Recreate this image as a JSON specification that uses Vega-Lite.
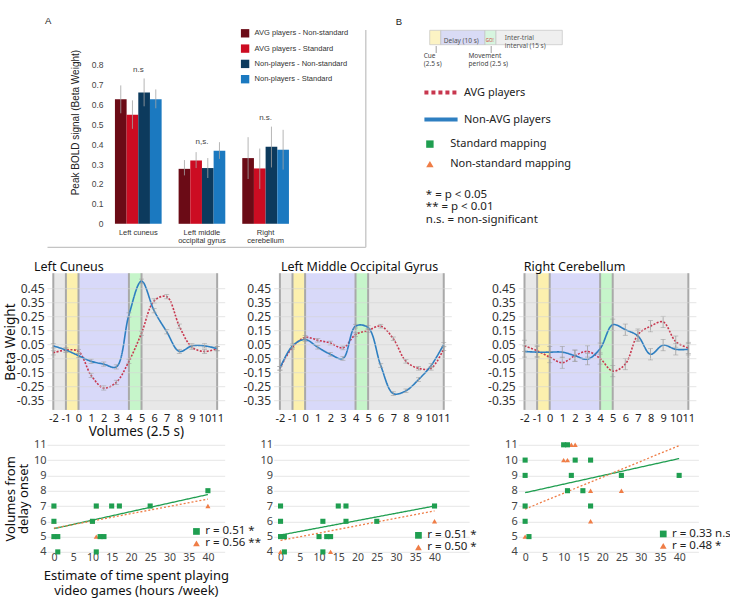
{
"$schema":"https://vega.github.io/schema/vega-lite/v6.json",
"padding":{"left":3,"top":15.5,"right":0,"bottom":0},
"spacing":13.7,
"config":{"font":"Noto Sans","view":{"stroke":null},"legend":{"padding":0},"axis":{"titleFontWeight":"normal","labelOverlap":false,"labelSeparation":-100}},
"resolve":{"scale":{"color":"independent","fill":"independent","stroke":"independent","shape":"independent","strokeDash":"independent"},"legend":{"color":"independent","fill":"independent","stroke":"independent","shape":"independent","strokeDash":"independent"}},
"datasets":{
"bars":[
{"region":"Left cuneus","group":"AVG players - Non-standard","value":0.625,"lo":0.555,"hi":0.695},
{"region":"Left cuneus","group":"AVG players - Standard","value":0.548,"lo":0.477,"hi":0.62},
{"region":"Left cuneus","group":"Non-players - Non-standard","value":0.66,"lo":0.59,"hi":0.73},
{"region":"Left cuneus","group":"Non-players - Standard","value":0.625,"lo":0.58,"hi":0.675},
{"region":"Left middle occipital gyrus","group":"AVG players - Non-standard","value":0.276,"lo":0.243,"hi":0.32},
{"region":"Left middle occipital gyrus","group":"AVG players - Standard","value":0.318,"lo":0.28,"hi":0.36},
{"region":"Left middle occipital gyrus","group":"Non-players - Non-standard","value":0.28,"lo":0.23,"hi":0.33},
{"region":"Left middle occipital gyrus","group":"Non-players - Standard","value":0.367,"lo":0.326,"hi":0.41},
{"region":"Right cerebellum","group":"AVG players - Non-standard","value":0.33,"lo":0.225,"hi":0.435},
{"region":"Right cerebellum","group":"AVG players - Standard","value":0.278,"lo":0.175,"hi":0.378},
{"region":"Right cerebellum","group":"Non-players - Non-standard","value":0.387,"lo":0.283,"hi":0.488},
{"region":"Right cerebellum","group":"Non-players - Standard","value":0.372,"lo":0.272,"hi":0.472}
],
"barnotes":[
{"region":"Left cuneus","note":"n.s","y":0.77},
{"region":"Left middle occipital gyrus","note":"n,s.","y":0.413},
{"region":"Right cerebellum","note":"n.s.","y":0.53}
],
"timeline":[{"phase":"Cue","dur":2.5,"idx":1},{"phase":"Delay","dur":10,"idx":2},{"phase":"Movement","dur":2.5,"idx":3},{"phase":"ITI","dur":15,"idx":4}],
"phases":[{"phase":"pre","start":-2,"end":-1},{"phase":"cue","start":-1,"end":0},{"phase":"delay","start":0,"end":4},{"phase":"move","start":4,"end":5},{"phase":"iti","start":5,"end":11}],
"edges":[{"v":-2},{"v":-1},{"v":0},{"v":4},{"v":5},{"v":11}],
"tc":[
{"region":"LC","group":"AVG players","vol":-2,"beta":-0.01,"err":0.015},
{"region":"LC","group":"AVG players","vol":-1,"beta":0.01,"err":0.015},
{"region":"LC","group":"AVG players","vol":0,"beta":0.0,"err":0.015},
{"region":"LC","group":"AVG players","vol":1,"beta":-0.17,"err":0.015},
{"region":"LC","group":"AVG players","vol":2,"beta":-0.26,"err":0.015},
{"region":"LC","group":"AVG players","vol":3,"beta":-0.22,"err":0.015},
{"region":"LC","group":"AVG players","vol":4,"beta":-0.07,"err":0.015},
{"region":"LC","group":"AVG players","vol":5,"beta":0.13,"err":0.015},
{"region":"LC","group":"AVG players","vol":6,"beta":0.36,"err":0.015},
{"region":"LC","group":"AVG players","vol":7,"beta":0.39,"err":0.015},
{"region":"LC","group":"AVG players","vol":8,"beta":0.18,"err":0.015},
{"region":"LC","group":"AVG players","vol":9,"beta":0.03,"err":0.015},
{"region":"LC","group":"AVG players","vol":10,"beta":0.0,"err":0.015},
{"region":"LC","group":"AVG players","vol":11,"beta":0.02,"err":0.015},
{"region":"LC","group":"Non-AVG players","vol":-2,"beta":0.04,"err":0.015},
{"region":"LC","group":"Non-AVG players","vol":-1,"beta":0.01,"err":0.015},
{"region":"LC","group":"Non-AVG players","vol":0,"beta":-0.03,"err":0.015},
{"region":"LC","group":"Non-AVG players","vol":1,"beta":-0.07,"err":0.015},
{"region":"LC","group":"Non-AVG players","vol":2,"beta":-0.09,"err":0.015},
{"region":"LC","group":"Non-AVG players","vol":3,"beta":-0.11,"err":0.015},
{"region":"LC","group":"Non-AVG players","vol":4,"beta":0.26,"err":0.015},
{"region":"LC","group":"Non-AVG players","vol":5,"beta":0.5,"err":0.015},
{"region":"LC","group":"Non-AVG players","vol":6,"beta":0.29,"err":0.015},
{"region":"LC","group":"Non-AVG players","vol":7,"beta":0.14,"err":0.015},
{"region":"LC","group":"Non-AVG players","vol":8,"beta":0.0,"err":0.015},
{"region":"LC","group":"Non-AVG players","vol":9,"beta":0.04,"err":0.015},
{"region":"LC","group":"Non-AVG players","vol":10,"beta":0.04,"err":0.015},
{"region":"LC","group":"Non-AVG players","vol":11,"beta":0.02,"err":0.015},
{"region":"LMOG","group":"AVG players","vol":-2,"beta":-0.12,"err":0.013},
{"region":"LMOG","group":"AVG players","vol":-1,"beta":0.03,"err":0.013},
{"region":"LMOG","group":"AVG players","vol":0,"beta":0.1,"err":0.013},
{"region":"LMOG","group":"AVG players","vol":1,"beta":0.08,"err":0.013},
{"region":"LMOG","group":"AVG players","vol":2,"beta":0.06,"err":0.013},
{"region":"LMOG","group":"AVG players","vol":3,"beta":0.025,"err":0.013},
{"region":"LMOG","group":"AVG players","vol":4,"beta":0.12,"err":0.013},
{"region":"LMOG","group":"AVG players","vol":5,"beta":0.15,"err":0.013},
{"region":"LMOG","group":"AVG players","vol":6,"beta":0.18,"err":0.013},
{"region":"LMOG","group":"AVG players","vol":7,"beta":0.09,"err":0.013},
{"region":"LMOG","group":"AVG players","vol":8,"beta":-0.07,"err":0.013},
{"region":"LMOG","group":"AVG players","vol":9,"beta":-0.12,"err":0.013},
{"region":"LMOG","group":"AVG players","vol":10,"beta":-0.12,"err":0.013},
{"region":"LMOG","group":"AVG players","vol":11,"beta":0.02,"err":0.013},
{"region":"LMOG","group":"Non-AVG players","vol":-2,"beta":-0.12,"err":0.013},
{"region":"LMOG","group":"Non-AVG players","vol":-1,"beta":0.04,"err":0.013},
{"region":"LMOG","group":"Non-AVG players","vol":0,"beta":0.085,"err":0.013},
{"region":"LMOG","group":"Non-AVG players","vol":1,"beta":0.03,"err":0.013},
{"region":"LMOG","group":"Non-AVG players","vol":2,"beta":-0.02,"err":0.013},
{"region":"LMOG","group":"Non-AVG players","vol":3,"beta":-0.05,"err":0.013},
{"region":"LMOG","group":"Non-AVG players","vol":4,"beta":0.18,"err":0.013},
{"region":"LMOG","group":"Non-AVG players","vol":5,"beta":0.17,"err":0.013},
{"region":"LMOG","group":"Non-AVG players","vol":6,"beta":-0.1,"err":0.013},
{"region":"LMOG","group":"Non-AVG players","vol":7,"beta":-0.3,"err":0.013},
{"region":"LMOG","group":"Non-AVG players","vol":8,"beta":-0.28,"err":0.013},
{"region":"LMOG","group":"Non-AVG players","vol":9,"beta":-0.2,"err":0.013},
{"region":"LMOG","group":"Non-AVG players","vol":10,"beta":-0.1,"err":0.013},
{"region":"LMOG","group":"Non-AVG players","vol":11,"beta":0.05,"err":0.013},
{"region":"RC","group":"AVG players","vol":-2,"beta":0.04,"err":0.04},
{"region":"RC","group":"AVG players","vol":-1,"beta":0.005,"err":0.04},
{"region":"RC","group":"AVG players","vol":0,"beta":-0.04,"err":0.04},
{"region":"RC","group":"AVG players","vol":1,"beta":-0.08,"err":0.04},
{"region":"RC","group":"AVG players","vol":2,"beta":-0.03,"err":0.04},
{"region":"RC","group":"AVG players","vol":3,"beta":0.0,"err":0.04},
{"region":"RC","group":"AVG players","vol":4,"beta":-0.05,"err":0.04},
{"region":"RC","group":"AVG players","vol":5,"beta":-0.14,"err":0.04},
{"region":"RC","group":"AVG players","vol":6,"beta":-0.09,"err":0.04},
{"region":"RC","group":"AVG players","vol":7,"beta":0.12,"err":0.04},
{"region":"RC","group":"AVG players","vol":8,"beta":0.18,"err":0.04},
{"region":"RC","group":"AVG players","vol":9,"beta":0.21,"err":0.04},
{"region":"RC","group":"AVG players","vol":10,"beta":0.07,"err":0.04},
{"region":"RC","group":"AVG players","vol":11,"beta":0.025,"err":0.04},
{"region":"RC","group":"Non-AVG players","vol":-2,"beta":0.0,"err":0.04},
{"region":"RC","group":"Non-AVG players","vol":-1,"beta":-0.005,"err":0.04},
{"region":"RC","group":"Non-AVG players","vol":0,"beta":-0.005,"err":0.04},
{"region":"RC","group":"Non-AVG players","vol":1,"beta":-0.005,"err":0.04},
{"region":"RC","group":"Non-AVG players","vol":2,"beta":-0.03,"err":0.04},
{"region":"RC","group":"Non-AVG players","vol":3,"beta":-0.055,"err":0.04},
{"region":"RC","group":"Non-AVG players","vol":4,"beta":0.02,"err":0.04},
{"region":"RC","group":"Non-AVG players","vol":5,"beta":0.19,"err":0.04},
{"region":"RC","group":"Non-AVG players","vol":6,"beta":0.155,"err":0.04},
{"region":"RC","group":"Non-AVG players","vol":7,"beta":0.11,"err":0.04},
{"region":"RC","group":"Non-AVG players","vol":8,"beta":-0.02,"err":0.04},
{"region":"RC","group":"Non-AVG players","vol":9,"beta":0.045,"err":0.04},
{"region":"RC","group":"Non-AVG players","vol":10,"beta":0.015,"err":0.04},
{"region":"RC","group":"Non-AVG players","vol":11,"beta":0.015,"err":0.04}
],
"sc":[
{"region":"LC","mapping":"Non-standard","hours":0,"vol":7},
{"region":"LC","mapping":"Non-standard","hours":0,"vol":6},
{"region":"LC","mapping":"Non-standard","hours":0,"vol":5},
{"region":"LC","mapping":"Non-standard","hours":10,"vol":6},
{"region":"LC","mapping":"Non-standard","hours":11,"vol":7},
{"region":"LC","mapping":"Non-standard","hours":11,"vol":5},
{"region":"LC","mapping":"Non-standard","hours":40,"vol":7},
{"region":"LC","mapping":"Standard","hours":0,"vol":7},
{"region":"LC","mapping":"Standard","hours":0,"vol":6},
{"region":"LC","mapping":"Standard","hours":0,"vol":5},
{"region":"LC","mapping":"Standard","hours":1,"vol":5},
{"region":"LC","mapping":"Standard","hours":1,"vol":4},
{"region":"LC","mapping":"Standard","hours":10,"vol":6},
{"region":"LC","mapping":"Standard","hours":11,"vol":7},
{"region":"LC","mapping":"Standard","hours":11,"vol":4},
{"region":"LC","mapping":"Standard","hours":12,"vol":5},
{"region":"LC","mapping":"Standard","hours":13,"vol":5},
{"region":"LC","mapping":"Standard","hours":15,"vol":7},
{"region":"LC","mapping":"Standard","hours":17,"vol":7},
{"region":"LC","mapping":"Standard","hours":25,"vol":7},
{"region":"LC","mapping":"Standard","hours":40,"vol":8},
{"region":"LMOG","mapping":"Non-standard","hours":0,"vol":5},
{"region":"LMOG","mapping":"Non-standard","hours":0,"vol":4},
{"region":"LMOG","mapping":"Non-standard","hours":13,"vol":4},
{"region":"LMOG","mapping":"Non-standard","hours":40,"vol":6},
{"region":"LMOG","mapping":"Standard","hours":0,"vol":7},
{"region":"LMOG","mapping":"Standard","hours":0,"vol":6},
{"region":"LMOG","mapping":"Standard","hours":0,"vol":5},
{"region":"LMOG","mapping":"Standard","hours":1,"vol":5},
{"region":"LMOG","mapping":"Standard","hours":1,"vol":4},
{"region":"LMOG","mapping":"Standard","hours":10,"vol":5},
{"region":"LMOG","mapping":"Standard","hours":11,"vol":6},
{"region":"LMOG","mapping":"Standard","hours":11,"vol":4},
{"region":"LMOG","mapping":"Standard","hours":12,"vol":5},
{"region":"LMOG","mapping":"Standard","hours":13,"vol":5},
{"region":"LMOG","mapping":"Standard","hours":15,"vol":7},
{"region":"LMOG","mapping":"Standard","hours":17,"vol":7},
{"region":"LMOG","mapping":"Standard","hours":17,"vol":6},
{"region":"LMOG","mapping":"Standard","hours":25,"vol":6},
{"region":"LMOG","mapping":"Standard","hours":40,"vol":7},
{"region":"RC","mapping":"Non-standard","hours":0,"vol":7},
{"region":"RC","mapping":"Non-standard","hours":0,"vol":5},
{"region":"RC","mapping":"Non-standard","hours":10,"vol":10},
{"region":"RC","mapping":"Non-standard","hours":11,"vol":10},
{"region":"RC","mapping":"Non-standard","hours":12,"vol":11},
{"region":"RC","mapping":"Non-standard","hours":13,"vol":11},
{"region":"RC","mapping":"Non-standard","hours":17,"vol":8},
{"region":"RC","mapping":"Non-standard","hours":17,"vol":6},
{"region":"RC","mapping":"Non-standard","hours":25,"vol":8},
{"region":"RC","mapping":"Standard","hours":0,"vol":10},
{"region":"RC","mapping":"Standard","hours":0,"vol":9},
{"region":"RC","mapping":"Standard","hours":0,"vol":7},
{"region":"RC","mapping":"Standard","hours":0,"vol":6},
{"region":"RC","mapping":"Standard","hours":1,"vol":5},
{"region":"RC","mapping":"Standard","hours":10,"vol":11},
{"region":"RC","mapping":"Standard","hours":11,"vol":11},
{"region":"RC","mapping":"Standard","hours":11,"vol":8},
{"region":"RC","mapping":"Standard","hours":12,"vol":9},
{"region":"RC","mapping":"Standard","hours":13,"vol":10},
{"region":"RC","mapping":"Standard","hours":15,"vol":8},
{"region":"RC","mapping":"Standard","hours":17,"vol":10},
{"region":"RC","mapping":"Standard","hours":17,"vol":7},
{"region":"RC","mapping":"Standard","hours":25,"vol":9},
{"region":"RC","mapping":"Standard","hours":40,"vol":9}
],
"fits":[
{"region":"LC","fit":"Standard mapping","hours":0,"vol":5.52},
{"region":"LC","fit":"Standard mapping","hours":40,"vol":7.75},
{"region":"LC","fit":"Non-standard mapping","hours":0,"vol":5.55},
{"region":"LC","fit":"Non-standard mapping","hours":40,"vol":7.45},
{"region":"LMOG","fit":"Standard mapping","hours":0,"vol":5.1},
{"region":"LMOG","fit":"Standard mapping","hours":40,"vol":7.0},
{"region":"LMOG","fit":"Non-standard mapping","hours":0,"vol":4.75},
{"region":"LMOG","fit":"Non-standard mapping","hours":40,"vol":6.68},
{"region":"RC","fit":"Standard mapping","hours":0,"vol":7.87},
{"region":"RC","fit":"Standard mapping","hours":40,"vol":10.1},
{"region":"RC","fit":"Non-standard mapping","hours":0,"vol":6.8},
{"region":"RC","fit":"Non-standard mapping","hours":40,"vol":10.95}
]
},
"vconcat":[
{"hconcat":[
 {"width":318.3,"height":217.3,
  "title":{"text":"A","anchor":"start","frame":"group","dx":-2,"font":"Liberation Sans","fontSize":9.5,"fontWeight":"normal","color":"#222","offset":-5,"baseline":"alphabetic"},
  "layer":[
   {"data":{"name":"bars"},"mark":{"type":"bar"},
    "encoding":{
     "x":{"field":"region","type":"nominal","scale":{"domain":["Left cuneus","Left middle occipital gyrus","Right cerebellum"],"paddingInner":0,"paddingOuter":1,"align":0.467},
      "axis":{"orient":"bottom","domain":true,"domainColor":"#c4c4c4","domainWidth":1.3,"ticks":false,"grid":false,"labelFont":"Liberation Sans","labelFontSize":7.5,"labelColor":"#333","labelPadding":-18,"labelBaseline":"top","labelLineHeight":8,"labelOverlap":false,"labelAngle":0,"labelExpr":"datum.label == 'Left middle occipital gyrus' ? ['Left middle','occipital gyrus'] : (datum.label == 'Right cerebellum' ? ['Right','cerebellum'] : datum.label)","title":null}},
     "xOffset":{"field":"group","type":"nominal","scale":{"domain":["AVG players - Non-standard","AVG players - Standard","Non-players - Non-standard","Non-players - Standard"],"paddingInner":0,"paddingOuter":0.727}},
     "y":{"field":"value","type":"quantitative","scale":{"domain":[-0.1155,0.9758],"zero":false,"nice":false},
      "axis":{"orient":"left","offset":-62,"values":[0,0.1,0.2,0.3,0.4,0.5,0.6,0.7,0.8],"tickCount":20,"format":".1~f","domain":false,"ticks":false,"grid":false,"labelFont":"Liberation Sans","labelFontSize":8.5,"labelColor":"#444","labelPadding":6,"title":"Peak BOLD signal      (Beta Weight)","titleFont":"Liberation Sans","titleFontSize":10,"titleColor":"#222","titleX":-34,"titleY":92.6,"titleAngle":-90,"titleAlign":"center","titleBaseline":"middle"}},
     "y2":{"datum":0},
     "color":{"field":"group","type":"nominal","scale":{"domain":["AVG players - Non-standard","AVG players - Standard","Non-players - Non-standard","Non-players - Standard"],"range":["#6b0b16","#cc0c22","#0c3a5d","#1b79c0"]},
      "legend":{"orient":"none","legendX":193.6,"legendY":-0.7,"title":null,"symbolType":"square","symbolSize":70,"symbolStrokeWidth":0,"labelFont":"Liberation Sans","labelFontSize":7.5,"labelColor":"#333","rowPadding":6.3,"labelOffset":5}}
    }},
   {"data":{"name":"bars"},"mark":{"type":"rule","color":"#a3a3a3","strokeWidth":0.8},
    "encoding":{
     "x":{"field":"region","type":"nominal"},
     "xOffset":{"field":"group","type":"nominal"},
     "y":{"field":"lo","type":"quantitative","scale":{"domain":[-0.1155,0.9758],"zero":false,"nice":false},"axis":null},
     "y2":{"field":"hi"}
    }},
   {"data":{"name":"barnotes"},"mark":{"type":"text","font":"Liberation Sans","fontSize":8,"color":"#444"},
    "encoding":{
     "x":{"field":"region","type":"nominal"},
     "y":{"field":"y","type":"quantitative","scale":{"domain":[-0.1155,0.9758],"zero":false,"nice":false},
      "axis":{"orient":"right","domain":true,"domainColor":"#c4c4c4","domainWidth":1.3,"ticks":false,"labels":false,"grid":false,"title":null}},
     "text":{"field":"note"}
    }}
  ],
  "resolve":{"scale":{"y":"independent"}}
 },
 {"width":132.6,"height":16,
  "title":{"text":"B","anchor":"start","frame":"group","dx":-34,"font":"Liberation Sans","fontSize":9.5,"fontWeight":"normal","color":"#222","offset":-5,"baseline":"alphabetic"},
  "layer":[
   {"data":{"name":"timeline"},"mark":{"type":"bar","stroke":"#c4c4c4","strokeWidth":0.7},
    "encoding":{
     "x":{"field":"dur","type":"quantitative","stack":"zero","scale":{"domain":[0,30],"nice":false,"zero":false},
      "axis":{"orient":"bottom","values":[1.25,13.75],"tickCount":20,"domain":false,"grid":false,"ticks":true,"tickSize":7,"tickColor":"#888","tickWidth":0.8,"labelExpr":"datum.value < 5 ? ['Cue','(2.5 s)'] : ['Movement','period (2.5 s)']","labelAlign":"left","labelOffset":{"condition":{"test":"datum.value < 5","value":-12},"value":-22.5},"labelBaseline":"top","labelFontSize":6.5,"labelLineHeight":7.5,"labelPadding":0,"labelColor":"#444","labelOverlap":false,"labelFlush":false,
       "title":["* = p < 0.05","** = p < 0.01","n.s. = non-significant"],"titleFontSize":11.5,"titleLineHeight":12.8,"titleColor":"#222","titleAlign":"left","titleBaseline":"top","titleX":-4.4,"titleY":142.7}},
     "order":{"field":"idx","type":"quantitative"},
     "color":{"field":"phase","type":"nominal","scale":{"domain":["Cue","Delay","Movement","ITI"],"range":["#fcf3c4","#d9dbf5","#d7f5df","#efefef"]},"legend":null}
    }},
   {"data":{"values":[{}]},"mark":{"type":"text","text":"Delay (10 s)","align":"left","baseline":"middle","fontSize":6.5,"color":"#555","dy":3.5},"encoding":{"x":{"datum":3.2}}},
   {"data":{"values":[{}]},"mark":{"type":"text","text":["Inter-trial","interval (15 s)"],"align":"left","baseline":"middle","fontSize":6.5,"lineHeight":8,"color":"#555"},"encoding":{"x":{"datum":17.0}}},
   {"data":{"values":[{}]},"mark":{"type":"text","text":"GO!","align":"center","baseline":"middle","fontSize":4.5,"color":"#d04040","dy":3.5},"encoding":{"x":{"datum":13.6}}},
   {"data":{"values":[]},"mark":{"type":"line","strokeWidth":4},
    "encoding":{
     "x":{"field":"t","type":"quantitative"},
     "color":{"field":"group","type":"nominal","scale":{"domain":["AVG players","Non-AVG players"],"range":["#c8374e","#2e7fc1"]},
      "legend":{"orient":"none","legendX":-7.7,"legendY":44,"title":null,"symbolType":"stroke","symbolSize":1100,"symbolStrokeWidth":4,"labelFontSize":11,"labelColor":"#222","labelOffset":4,"rowPadding":-12.4}},
     "strokeDash":{"field":"group","type":"nominal","scale":{"domain":["AVG players","Non-AVG players"],"range":[[4,3],[1,0]]},
      "legend":{"orient":"none","legendX":-7.7,"legendY":44,"title":null,"symbolType":"stroke","symbolSize":1100,"symbolStrokeWidth":4,"labelFontSize":11,"labelColor":"#222","labelOffset":4,"rowPadding":-12.4}}
    }},
   {"data":{"values":[]},"mark":{"type":"point","filled":true,"size":55,"opacity":1},
    "encoding":{
     "x":{"field":"t","type":"quantitative"},
     "color":{"field":"fit","type":"nominal","scale":{"domain":["Standard mapping","Non-standard mapping"],"range":["#1f9e50","#ef7d46"]},
      "legend":{"orient":"none","legendX":-5.3,"legendY":109.1,"title":null,"labelFontSize":11,"labelColor":"#222","symbolSize":55,"symbolStrokeWidth":0,"rowPadding":8,"labelOffset":14.8}},
     "shape":{"field":"fit","type":"nominal","scale":{"domain":["Standard mapping","Non-standard mapping"],"range":["square","triangle-up"]},
      "legend":{"orient":"none","legendX":-5.3,"legendY":109.1,"title":null,"labelFontSize":11,"labelColor":"#222","symbolSize":55,"symbolStrokeWidth":0,"rowPadding":8,"labelOffset":14.8}}
    }}
  ],
  "resolve":{"scale":{"color":"independent","shape":"independent","strokeDash":"independent"},"legend":{"color":"independent","shape":"independent","strokeDash":"independent"}}
 }
 ],"spacing":63.7,"bounds":"flush",
 "resolve":{"scale":{"color":"independent","fill":"independent","stroke":"independent","shape":"independent","strokeDash":"independent"},"legend":{"color":"independent","fill":"independent","stroke":"independent","shape":"independent","strokeDash":"independent"}}
},
{"concat":[
 {"width":177.7,"height":136.7,
   "title":{"text":"Left Cuneus","anchor":"start","frame":"group","dx":-13,"fontSize":12.5,"fontWeight":"normal","color":"#111","offset":-11.7,"baseline":"alphabetic"},
   "layer":[
    {"data":{"name":"phases"},"mark":{"type":"rect"},"encoding":{
      "x":{"field":"start","type":"quantitative","scale":{"domain":[-2.5,11.6],"nice":false,"zero":false},
       "axis":{"values":[-2,-1,0,1,2,3,4,5,6,7,8,9,10,11],"tickCount":20,"labelExpr":"(datum.value < 0 ? '-' : '') + abs(datum.value)","domain":false,"ticks":false,"grid":false,"labelFontSize":11,"labelPadding":3,"labelOverlap":false,"labelFlush":false,"labelColor":"#222","title":"Volumes (2.5 s)","titleFontSize":13.5,"titlePadding":1,"titleColor":"#111"}},
      "x2":{"field":"end"},
      "fill":{"field":"phase","type":"nominal","scale":{"domain":["pre","cue","delay","move","iti"],"range":["#e8e8e8","#fcf0ae","#d8d9f9","#c6f5ca","#e8e8e8"]},"legend":null}}},
    {"data":{"name":"edges"},"mark":{"type":"rule","color":"#a9a9a9","strokeWidth":2},"encoding":{"x":{"field":"v","type":"quantitative"}}},
    {"data":{"name":"tc"},"transform":[{"filter":"datum.region == 'LC'"}],"mark":{"type":"line","interpolate":"catmull-rom","strokeWidth":1.6},"encoding":{
      "x":{"field":"vol","type":"quantitative"},
      "y":{"field":"beta","type":"quantitative","scale":{"domain":[-0.416,0.557],"nice":false,"zero":false},
       "axis":{"values":[-0.35,-0.25,-0.15,-0.05,0.05,0.15,0.25,0.35,0.45],"tickCount":20,"labelExpr":"(datum.value < 0 ? '-' : '') + format(abs(datum.value), '.2f')","domain":false,"ticks":false,"grid":true,"gridColor":"#d4d4d4","gridOpacity":0.6,"zindex":1,"labelFontSize":12,"labelPadding":3,"labelColor":"#333","labelOverlap":false,"title":"Beta Weight","titleFontSize":13.5,"titlePadding":-1.5,"titleColor":"#111"}},
      "color":{"field":"group","type":"nominal","scale":{"domain":["AVG players","Non-AVG players"],"range":["#c8374e","#2e7fc1"]},"legend":null},
      "strokeDash":{"field":"group","type":"nominal","scale":{"domain":["AVG players","Non-AVG players"],"range":[[2,1.5],[1,0]]},"legend":null}}},
    {"data":{"name":"tc"},"transform":[{"filter":"datum.region == 'LC'"}],"mark":{"type":"errorbar","color":"#9e9e9e","ticks":true,"thickness":0.8},"encoding":{
      "x":{"field":"vol","type":"quantitative"},
      "y":{"field":"beta","type":"quantitative","title":"Beta Weight"},
      "yError":{"field":"err"}}}
   ]
 },
 {"width":177.7,"height":136.7,
    "title":{"text":"Left Middle Occipital Gyrus","anchor":"start","frame":"group","dx":7.3,"fontSize":12.5,"fontWeight":"normal","color":"#111","offset":-11.7,"baseline":"alphabetic"},
    "layer":[
     {"data":{"name":"phases"},"mark":{"type":"rect"},"encoding":{
       "x":{"field":"start","type":"quantitative","scale":{"domain":[-2.5,11.6],"nice":false,"zero":false},
        "axis":{"values":[-2,-1,0,1,2,3,4,5,6,7,8,9,10,11],"tickCount":20,"labelExpr":"(datum.value < 0 ? '-' : '') + abs(datum.value)","domain":false,"ticks":false,"grid":false,"labelFontSize":11,"labelPadding":3,"labelOverlap":false,"labelFlush":false,"labelColor":"#222","title":null}},
       "x2":{"field":"end"},
       "fill":{"field":"phase","type":"nominal","scale":{"domain":["pre","cue","delay","move","iti"],"range":["#e8e8e8","#fcf0ae","#d8d9f9","#c6f5ca","#e8e8e8"]},"legend":null}}},
     {"data":{"name":"edges"},"mark":{"type":"rule","color":"#a9a9a9","strokeWidth":2},"encoding":{"x":{"field":"v","type":"quantitative"}}},
     {"data":{"name":"tc"},"transform":[{"filter":"datum.region == 'LMOG'"}],"mark":{"type":"line","interpolate":"catmull-rom","strokeWidth":1.6},"encoding":{
       "x":{"field":"vol","type":"quantitative"},
       "y":{"field":"beta","type":"quantitative","scale":{"domain":[-0.416,0.557],"nice":false,"zero":false},
        "axis":{"values":[-0.35,-0.25,-0.15,-0.05,0.05,0.15,0.25,0.35,0.45],"tickCount":20,"labelExpr":"(datum.value < 0 ? '-' : '') + format(abs(datum.value), '.2f')","domain":false,"ticks":false,"grid":true,"gridColor":"#d4d4d4","gridOpacity":0.6,"zindex":1,"labelFontSize":12,"labelPadding":3,"labelColor":"#333","labelOverlap":false,"title":null}},
       "color":{"field":"group","type":"nominal","scale":{"domain":["AVG players","Non-AVG players"],"range":["#c8374e","#2e7fc1"]},"legend":null},
       "strokeDash":{"field":"group","type":"nominal","scale":{"domain":["AVG players","Non-AVG players"],"range":[[2,1.5],[1,0]]},"legend":null}}},
     {"data":{"name":"tc"},"transform":[{"filter":"datum.region == 'LMOG'"}],"mark":{"type":"errorbar","color":"#9e9e9e","ticks":true,"thickness":0.8},"encoding":{
       "x":{"field":"vol","type":"quantitative"},
       "y":{"field":"beta","type":"quantitative","title":null},
       "yError":{"field":"err"}}}
    ]
 },
 {"width":177.7,"height":136.7,
    "title":{"text":"Right Cerebellum","anchor":"start","frame":"group","dx":5.6,"fontSize":12.5,"fontWeight":"normal","color":"#111","offset":-11.7,"baseline":"alphabetic"},
    "layer":[
     {"data":{"name":"phases"},"mark":{"type":"rect"},"encoding":{
       "x":{"field":"start","type":"quantitative","scale":{"domain":[-2.5,11.6],"nice":false,"zero":false},
        "axis":{"values":[-2,-1,0,1,2,3,4,5,6,7,8,9,10,11],"tickCount":20,"labelExpr":"(datum.value < 0 ? '-' : '') + abs(datum.value)","domain":false,"ticks":false,"grid":false,"labelFontSize":11,"labelPadding":3,"labelOverlap":false,"labelFlush":false,"labelColor":"#222","title":null}},
       "x2":{"field":"end"},
       "fill":{"field":"phase","type":"nominal","scale":{"domain":["pre","cue","delay","move","iti"],"range":["#e8e8e8","#fcf0ae","#d8d9f9","#c6f5ca","#e8e8e8"]},"legend":null}}},
     {"data":{"name":"edges"},"mark":{"type":"rule","color":"#a9a9a9","strokeWidth":2},"encoding":{"x":{"field":"v","type":"quantitative"}}},
     {"data":{"name":"tc"},"transform":[{"filter":"datum.region == 'RC'"}],"mark":{"type":"line","interpolate":"catmull-rom","strokeWidth":1.6},"encoding":{
       "x":{"field":"vol","type":"quantitative"},
       "y":{"field":"beta","type":"quantitative","scale":{"domain":[-0.416,0.557],"nice":false,"zero":false},
        "axis":{"values":[-0.35,-0.25,-0.15,-0.05,0.05,0.15,0.25,0.35,0.45],"tickCount":20,"labelExpr":"(datum.value < 0 ? '-' : '') + format(abs(datum.value), '.2f')","domain":false,"ticks":false,"grid":true,"gridColor":"#d4d4d4","gridOpacity":0.6,"zindex":1,"labelFontSize":12,"labelPadding":3,"labelColor":"#333","labelOverlap":false,"title":null}},
       "color":{"field":"group","type":"nominal","scale":{"domain":["AVG players","Non-AVG players"],"range":["#c8374e","#2e7fc1"]},"legend":null},
       "strokeDash":{"field":"group","type":"nominal","scale":{"domain":["AVG players","Non-AVG players"],"range":[[2,1.5],[1,0]]},"legend":null}}},
     {"data":{"name":"tc"},"transform":[{"filter":"datum.region == 'RC'"}],"mark":{"type":"errorbar","color":"#9e9e9e","ticks":true,"thickness":0.8},"encoding":{
       "x":{"field":"vol","type":"quantitative"},
       "y":{"field":"beta","type":"quantitative","title":null},
       "yError":{"field":"err"}}}
    ]
 },
 {"width":177.7,"height":107.1,
   "layer":[
    {"data":{"name":"fits"},"transform":[{"filter":"datum.region == 'LC'"}],"mark":{"type":"line","strokeWidth":1.3},"encoding":{
      "x":{"field":"hours","type":"quantitative","scale":{"domain":[-1.8,44.36],"nice":false,"zero":false},
       "axis":{"values":[0,5,10,15,20,25,30,35,40],"tickCount":20,"format":"d","domain":false,"ticks":false,"grid":false,"labelFontSize":10.5,"labelPadding":1,"labelColor":"#444","labelFlush":false,"labelOverlap":false,"title":["Estimate of time spent playing","video games (hours /week)"],"titleFontSize":13,"titlePadding":6,"titleLineHeight":15,"titleColor":"#111"}},
      "y":{"field":"vol","type":"quantitative","scale":{"domain":[4,11],"nice":false,"zero":false},
       "axis":{"values":[4,5,6,7,8,9,10,11],"tickCount":20,"format":"d","domain":false,"ticks":false,"grid":true,"gridColor":"#e6e6e6","labelFontSize":11,"labelPadding":1,"labelColor":"#444","labelOverlap":false,"title":["Volumes from","delay onset"],"titleFontSize":13,"titlePadding":3,"titleLineHeight":13,"titleColor":"#111"}},
      "stroke":{"field":"fit","type":"nominal","scale":{"domain":["Standard mapping","Non-standard mapping"],"range":["#1f9e50","#ef7d46"]},"legend":null},
      "strokeDash":{"field":"fit","type":"nominal","scale":{"domain":["Standard mapping","Non-standard mapping"],"range":[[1,0],[2,2]]},"legend":null}}},
    {"data":{"name":"sc"},"transform":[{"filter":"datum.region == 'LC'"}],"mark":{"type":"point","filled":true,"size":26,"opacity":1},"encoding":{
      "x":{"field":"hours","type":"quantitative"},
      "y":{"field":"vol","type":"quantitative"},
      "color":{"field":"mapping","type":"nominal","scale":{"domain":["Standard","Non-standard"],"range":["#1f9e50","#ef7d46"]},
       "legend":{"orient":"none","legendX":143.7,"legendY":80.9,"title":null,"labelFontSize":11.5,"labelColor":"#222","symbolSize":45,"symbolStrokeWidth":0,"rowPadding":-4.3,"labelOffset":3,"labelExpr":"datum.label == 'Standard' ? 'r = 0.51 *' : 'r = 0.56 **'"}},
      "shape":{"field":"mapping","type":"nominal","scale":{"domain":["Standard","Non-standard"],"range":["square","triangle-up"]},
       "legend":{"orient":"none","legendX":143.7,"legendY":80.9,"title":null,"labelFontSize":11.5,"labelColor":"#222","symbolSize":45,"symbolStrokeWidth":0,"rowPadding":-4.3,"labelOffset":3,"labelExpr":"datum.label == 'Standard' ? 'r = 0.51 *' : 'r = 0.56 **'"}}}}
   ]
 },
 {"width":195.5,"height":107.1,
    "layer":[
     {"data":{"name":"fits"},"transform":[{"filter":"datum.region == 'LMOG'"}],"mark":{"type":"line","strokeWidth":1.3},"encoding":{
       "x":{"field":"hours","type":"quantitative","scale":{"domain":[-1.8,48.98],"nice":false,"zero":false},
        "axis":{"values":[0,5,10,15,20,25,30,35,40],"tickCount":20,"format":"d","domain":false,"ticks":false,"grid":false,"labelFontSize":10.5,"labelPadding":1,"labelColor":"#444","labelFlush":false,"labelOverlap":false,"title":null}},
       "y":{"field":"vol","type":"quantitative","scale":{"domain":[4,11],"nice":false,"zero":false},
        "axis":{"values":[4,5,6,7,8,9,10,11],"tickCount":20,"format":"d","domain":false,"ticks":false,"grid":true,"gridColor":"#e6e6e6","labelFontSize":11,"labelPadding":1,"labelColor":"#444","labelOverlap":false,"title":null}},
       "stroke":{"field":"fit","type":"nominal","scale":{"domain":["Standard mapping","Non-standard mapping"],"range":["#1f9e50","#ef7d46"]},"legend":null},
       "strokeDash":{"field":"fit","type":"nominal","scale":{"domain":["Standard mapping","Non-standard mapping"],"range":[[1,0],[2,2]]},"legend":null}}},
     {"data":{"name":"sc"},"transform":[{"filter":"datum.region == 'LMOG'"}],"mark":{"type":"point","filled":true,"size":26,"opacity":1},"encoding":{
       "x":{"field":"hours","type":"quantitative"},
       "y":{"field":"vol","type":"quantitative"},
       "color":{"field":"mapping","type":"nominal","scale":{"domain":["Standard","Non-standard"],"range":["#1f9e50","#ef7d46"]},
        "legend":{"orient":"none","legendX":139.1,"legendY":84.8,"title":null,"labelFontSize":11.5,"labelColor":"#222","symbolSize":45,"symbolStrokeWidth":0,"rowPadding":-4.3,"labelOffset":3,"labelExpr":"datum.label == 'Standard' ? 'r = 0.51 *' : 'r = 0.50 *'"}},
       "shape":{"field":"mapping","type":"nominal","scale":{"domain":["Standard","Non-standard"],"range":["square","triangle-up"]},
        "legend":{"orient":"none","legendX":139.1,"legendY":84.8,"title":null,"labelFontSize":11.5,"labelColor":"#222","symbolSize":45,"symbolStrokeWidth":0,"rowPadding":-4.3,"labelOffset":3,"labelExpr":"datum.label == 'Standard' ? 'r = 0.51 *' : 'r = 0.50 *'"}}}}
    ]
 },
 {"width":180.2,"height":107.1,
    "layer":[
     {"data":{"name":"fits"},"transform":[{"filter":"datum.region == 'RC'"}],"mark":{"type":"line","strokeWidth":1.3},"encoding":{
       "x":{"field":"hours","type":"quantitative","scale":{"domain":[-1.8,45],"nice":false,"zero":false},
        "axis":{"values":[0,5,10,15,20,25,30,35,40],"tickCount":20,"format":"d","domain":false,"ticks":false,"grid":false,"labelFontSize":10.5,"labelPadding":1,"labelColor":"#444","labelFlush":false,"labelOverlap":false,"title":null}},
       "y":{"field":"vol","type":"quantitative","scale":{"domain":[4,11],"nice":false,"zero":false},
        "axis":{"values":[4,5,6,7,8,9,10,11],"tickCount":20,"format":"d","domain":false,"ticks":false,"grid":true,"gridColor":"#e6e6e6","labelFontSize":11,"labelPadding":1,"labelColor":"#444","labelOverlap":false,"title":null}},
       "stroke":{"field":"fit","type":"nominal","scale":{"domain":["Standard mapping","Non-standard mapping"],"range":["#1f9e50","#ef7d46"]},"legend":null},
       "strokeDash":{"field":"fit","type":"nominal","scale":{"domain":["Standard mapping","Non-standard mapping"],"range":[[1,0],[2,2]]},"legend":null}}},
     {"data":{"name":"sc"},"transform":[{"filter":"datum.region == 'RC'"}],"mark":{"type":"point","filled":true,"size":26,"opacity":1},"encoding":{
       "x":{"field":"hours","type":"quantitative"},
       "y":{"field":"vol","type":"quantitative"},
       "color":{"field":"mapping","type":"nominal","scale":{"domain":["Standard","Non-standard"],"range":["#1f9e50","#ef7d46"]},
        "legend":{"orient":"none","legendX":139.3,"legendY":83.4,"title":null,"labelFontSize":11.5,"labelColor":"#222","symbolSize":45,"symbolStrokeWidth":0,"rowPadding":-4.3,"labelOffset":3,"labelExpr":"datum.label == 'Standard' ? 'r = 0.33 n.s' : 'r = 0.48 *'"}},
       "shape":{"field":"mapping","type":"nominal","scale":{"domain":["Standard","Non-standard"],"range":["square","triangle-up"]},
        "legend":{"orient":"none","legendX":139.3,"legendY":83.4,"title":null,"labelFontSize":11.5,"labelColor":"#222","symbolSize":45,"symbolStrokeWidth":0,"rowPadding":-4.3,"labelOffset":3,"labelExpr":"datum.label == 'Standard' ? 'r = 0.33 n.s' : 'r = 0.48 *'"}}}}
    ]
 }
 ],"columns":3,"bounds":"flush","spacing":{"row":34.6,"column":48.6},
 "resolve":{"scale":{"color":"independent","fill":"independent","stroke":"independent","shape":"independent","strokeDash":"independent"},"legend":{"color":"independent","fill":"independent","stroke":"independent","shape":"independent","strokeDash":"independent"}}
}
]
}
